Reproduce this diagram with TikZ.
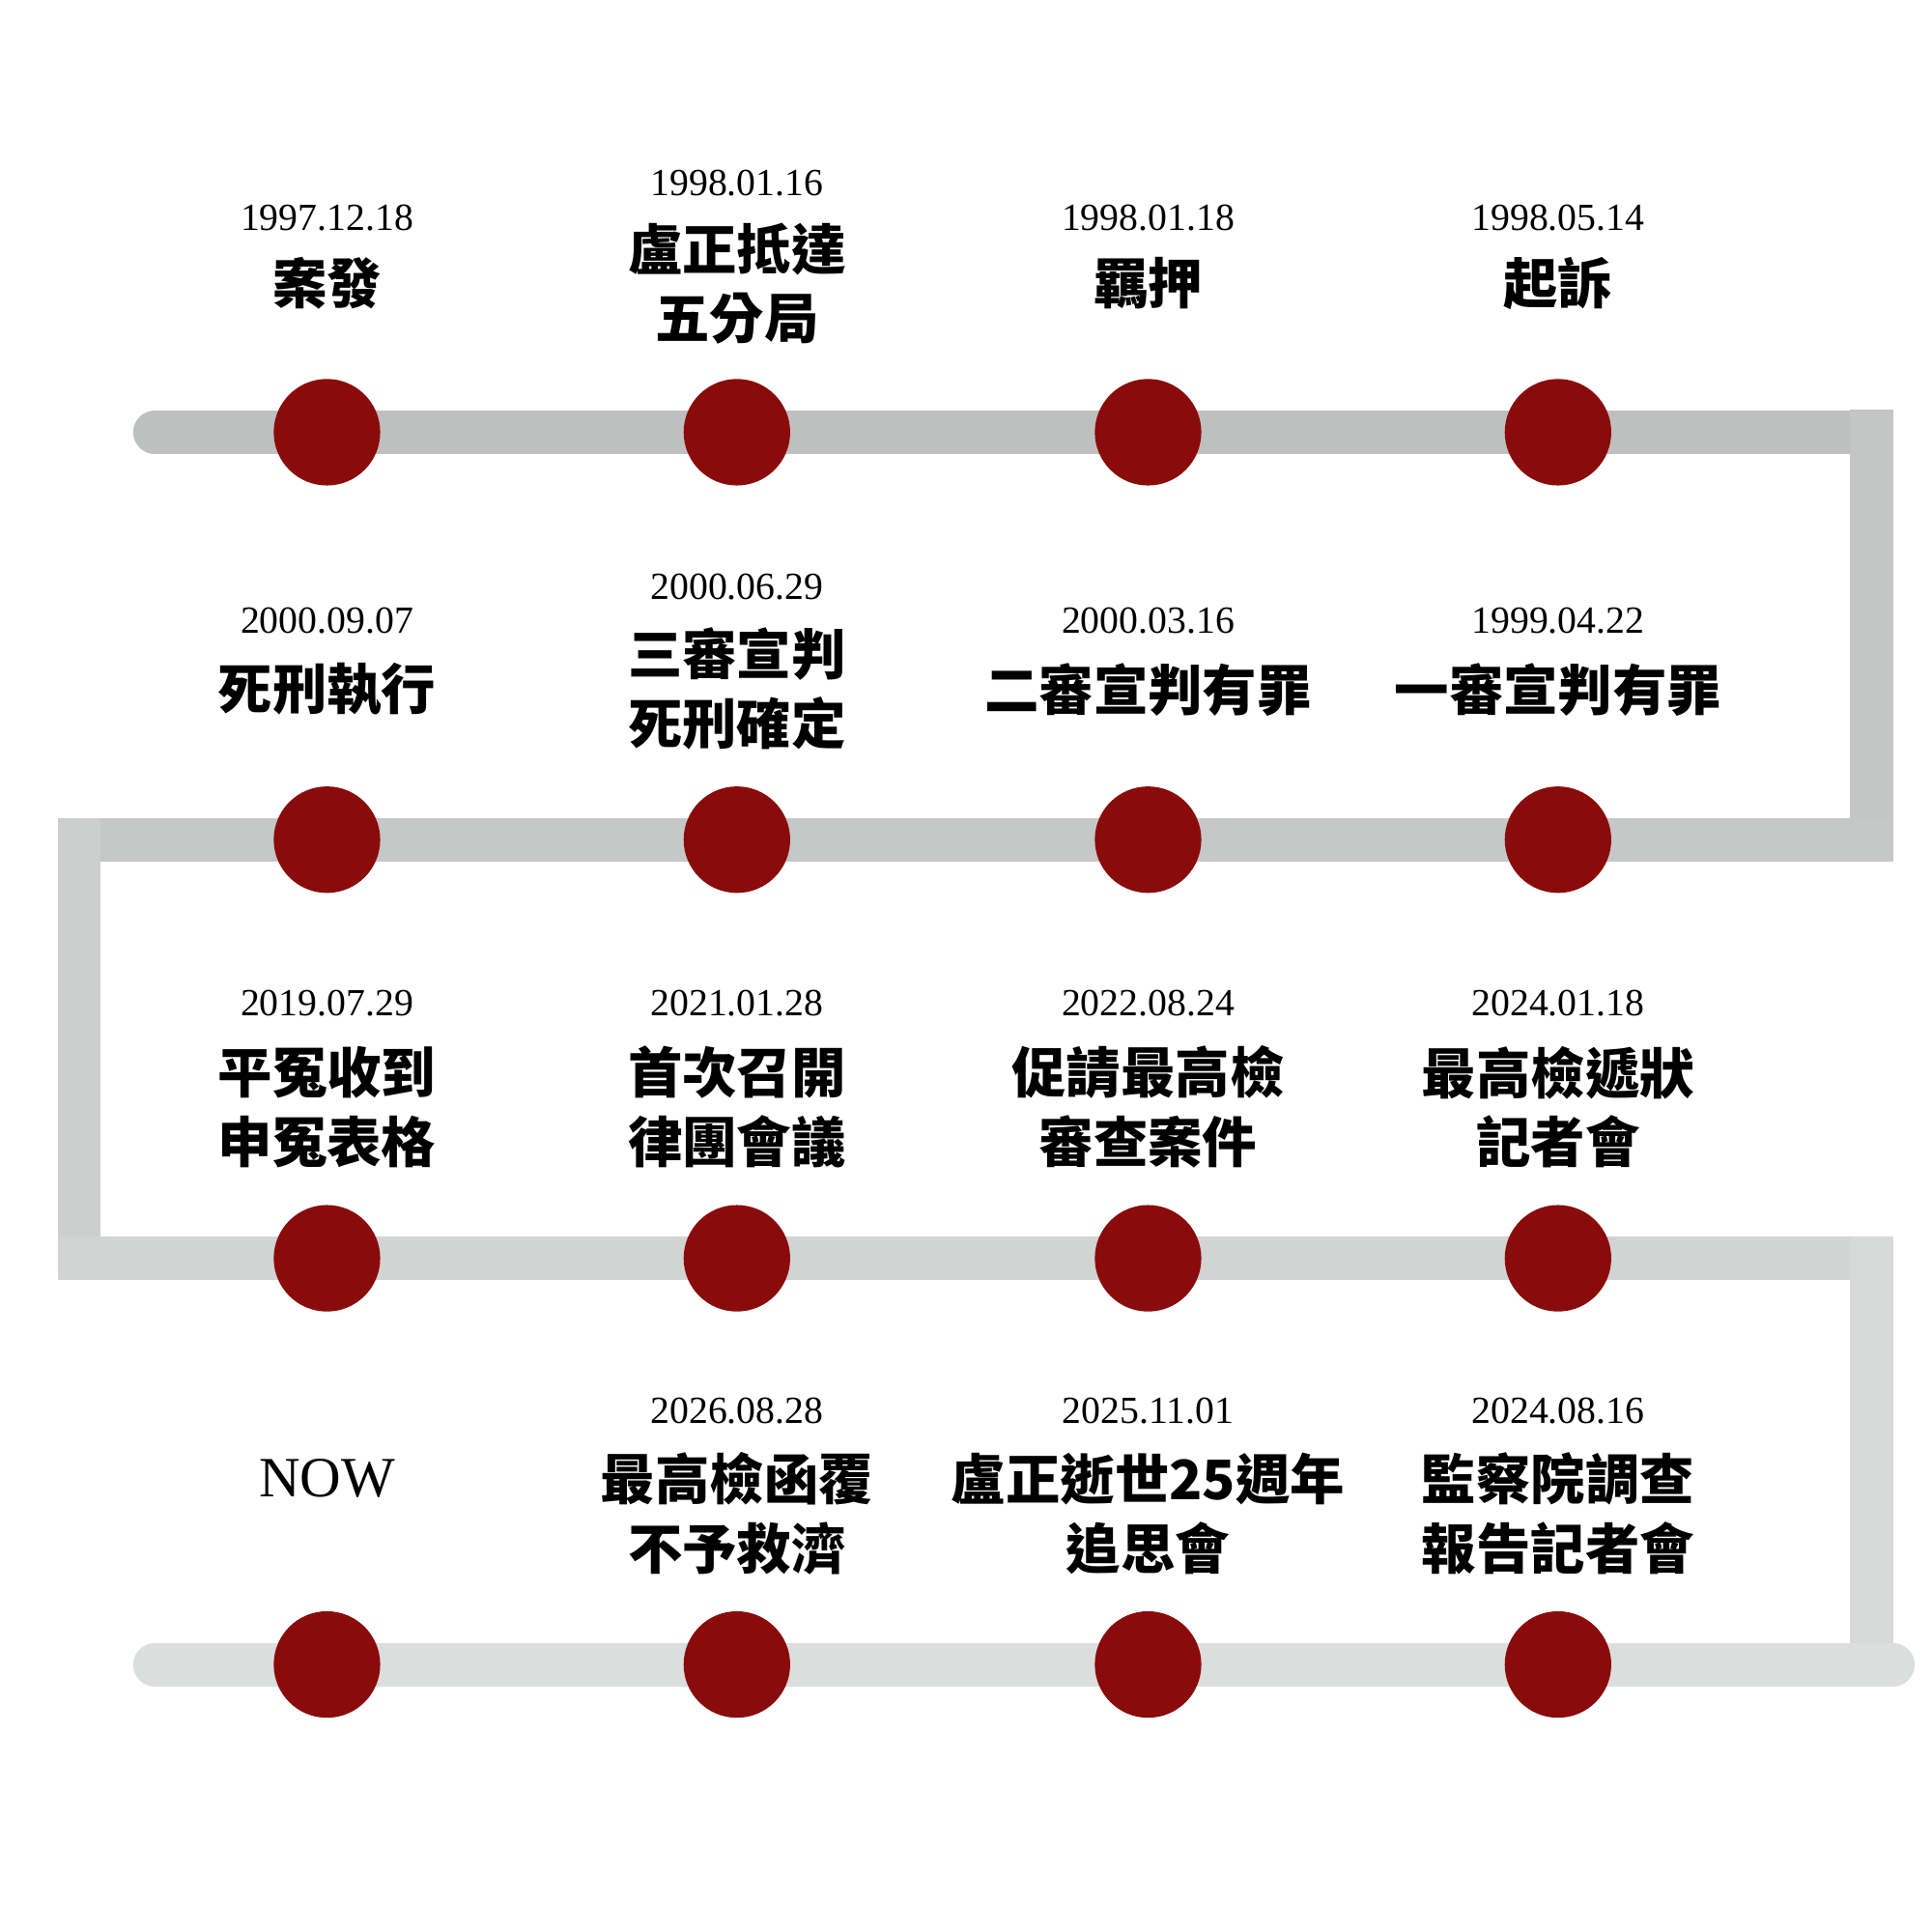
\documentclass[tikz,border=0pt]{standalone}
\usepackage{fontspec}
\setmainfont{Liberation Serif}
\newfontfamily\cjk{Noto Sans CJK TC}[Scale=1]
\begin{document}
\begin{tikzpicture}[x=1pt,y=-1pt,
  dot/.style={circle,fill=dotred,minimum size=86pt,inner sep=0pt},
  date/.style={font=\fontsize{31}{34}\selectfont,inner sep=0pt},
  ttl/.style={font=\fontsize{44}{56}\selectfont\cjk\bfseries,align=center,inner sep=0pt},
  track/.style={line width=35pt}]
\definecolor{dotred}{HTML}{8A0B0B}
\useasboundingbox[fill=white] (0,0) rectangle (1560,1560);
% track
\draw[track,color={rgb,255:red,190;green,192;blue,191},line cap=round] (125,349) -- (1511,349);
\draw[track,color={rgb,255:red,196;green,198;blue,197}] (1511,331) -- (1511,678);
\draw[track,color={rgb,255:red,198;green,200;blue,199}] (1528.5,678) -- (64,678);
\draw[track,color={rgb,255:red,205;green,206;blue,206}] (64,660.5) -- (64,1016);
\draw[track,color={rgb,255:red,210;green,211;blue,211}] (46.5,1016) -- (1511,1016);
\draw[track,color={rgb,255:red,215;green,216;blue,216}] (1511,998.5) -- (1511,1344);
\draw[track,color={rgb,255:red,220;green,221;blue,221},line cap=round] (1528.5,1344) -- (125,1344);
% dots
\foreach \r/\y in {a/349,b/678,c/1016,d/1344}
  \foreach \c/\x in {1/264,2/595,3/927,4/1258}
    \node[dot] (\r\c) at (\x,\y) {};
% row 1
\node[date] (da1) at (264,176) {1997.12.18};
\node[ttl] (ta1) at (264,229) {案發};
\node[date] (da2) at (595,148) {1998.01.16};
\node[ttl] (ta2) at (595,229) {盧正抵達\\五分局};
\node[date] (da3) at (927,176) {1998.01.18};
\node[ttl] (ta3) at (927,229) {羈押};
\node[date] (da4) at (1258,176) {1998.05.14};
\node[ttl] (ta4) at (1258,229) {起訴};
% row 2
\node[date] (db1) at (264,501) {2000.09.07};
\node[ttl] (tb1) at (264,557) {死刑執行};
\node[date] (db2) at (595,474) {2000.06.29};
\node[ttl] (tb2) at (595,556) {三審宣判\\死刑確定};
\node[date] (db3) at (927,501) {2000.03.16};
\node[ttl] (tb3) at (927,557) {二審宣判有罪};
\node[date] (db4) at (1258,501) {1999.04.22};
\node[ttl] (tb4) at (1258,557) {一審宣判有罪};
% row 3
\node[date] (dc1) at (264,810) {2019.07.29};
\node[ttl] (tc1) at (264,894) {平冤收到\\申冤表格};
\node[date] (dc2) at (595,810) {2021.01.28};
\node[ttl] (tc2) at (595,894) {首次召開\\律團會議};
\node[date] (dc3) at (927,810) {2022.08.24};
\node[ttl] (tc3) at (927,894) {促請最高檢\\審查案件};
\node[date] (dc4) at (1258,810) {2024.01.18};
\node[ttl] (tc4) at (1258,894) {最高檢遞狀\\記者會};
% row 4
\node[font=\fontsize{46}{50}\selectfont,inner sep=0pt] (td1) at (264,1194) {NOW};
\node[date] (dd2) at (595,1139) {2026.08.28};
\node[ttl] (td2) at (595,1222) {最高檢函覆\\不予救濟};
\node[date] (dd3) at (927,1139) {2025.11.01};
\node[ttl] (td3) at (927,1222) {盧正逝世25週年\\追思會};
\node[date] (dd4) at (1258,1139) {2024.08.16};
\node[ttl] (td4) at (1258,1222) {監察院調查\\報告記者會};
\end{tikzpicture}
\end{document}
